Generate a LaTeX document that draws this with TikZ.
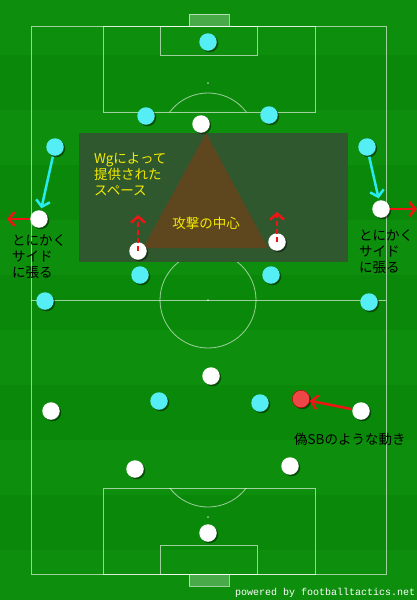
\documentclass[tikz,border=0pt]{standalone}
\usepackage{fontspec}
\newfontfamily\jpfont{Noto Sans CJK JP}
\newfontfamily\monofont{Liberation Mono}
\usetikzlibrary{arrows.meta,shadows}
\definecolor{fieldA}{RGB}{10,136,10}
\definecolor{fieldB}{RGB}{13,142,13}
\definecolor{overlayC}{RGB}{47,88,47}
\definecolor{brownT}{RGB}{94,70,30}
\definecolor{yellowT}{RGB}{245,235,0}
\definecolor{cyanP}{RGB}{85,238,245}
\definecolor{redP}{RGB}{238,70,70}
\definecolor{redA}{RGB}{240,20,20}
\definecolor{cyanA}{RGB}{40,235,240}
\tikzset{
  fieldline/.style={draw=white, draw opacity=0.6, line width=0.8pt},
  player/.style={circle, minimum size=17.5pt, inner sep=0pt,
    drop shadow={shadow xshift=1.5pt, shadow yshift=-1.5pt, opacity=0.45, fill=black}},
  pw/.style={player, fill=white},
  pc/.style={player, fill=cyanP},
  pr/.style={player, fill=redP, draw=red!70!black, line width=0.4pt},
  tip/.style={-{Straight Barb[length=6pt,width=14pt,line width=2.5pt]}},
  carrow/.style={tip, draw=cyanA, line width=2.5pt, shorten <=1pt, shorten >=2pt},
  rarrow/.style={tip, draw=redA, line width=2.5pt},
  darrow/.style={tip, draw=redA, line width=2.5pt, dash pattern=on 5pt off 3pt},
  jptext/.style={font=\jpfont\fontsize{13.5}{16}\selectfont, inner sep=0pt, align=left},
}
\begin{document}
\begin{tikzpicture}[x=1pt,y=-1pt]
\useasboundingbox (0,0) rectangle (417,600);
% field background with stripes
\fill[fieldA] (0,0) rectangle (417,600);
\foreach \y in {0,110,220,330,440,550} {
  \fill[fieldB] (0,\y) rectangle (417,\y+55);
}
% field markings
\draw[fieldline] (31,26) rectangle (386,574);
\draw[fieldline] (31,300) -- (386,300);
\draw[fieldline] (208,300) circle[radius=48];
\fill[white, opacity=0.6] (208,300) circle[radius=1];
% top
\draw[fieldline] (103,26) rectangle (315,112);
\draw[fieldline] (160,26) rectangle (257,55);
\draw[fieldline, fill=white, fill opacity=0.25] (189,14) rectangle (229,26);
\fill[white, opacity=0.6] (208,83) circle[radius=1];
\draw[fieldline] (169.8,112) arc[start angle=217.2, end angle=322.8, radius=48];
% bottom
\draw[fieldline] (103,488) rectangle (315,574);
\draw[fieldline] (160,545) rectangle (257,574);
\draw[fieldline, fill=white, fill opacity=0.25] (189,574) rectangle (229,586);
\fill[white, opacity=0.6] (208,517) circle[radius=1];
\draw[fieldline] (169.8,488) arc[start angle=142.8, end angle=37.2, radius=48];
% overlay and triangle
\fill[overlayC] (79,133) rectangle (348,262);
\fill[brownT] (206,133) -- (143,248) -- (268,248) -- cycle;
% texts in overlay
\node[jptext, text=yellowT, anchor=west] (t1) at (94,174) {Wgによって\\提供された\\スペース};
\node[jptext, text=yellowT] (t2) at (206,223) {攻撃の中心};
% cyan players
\node[pc] (c1) at (208,42) {};
\node[pc] (c2) at (146,116) {};
\node[pc] (c3) at (269,115) {};
\node[pc] (c4) at (55,147) {};
\node[pc] (c5) at (367,147) {};
\node[pc] (c6) at (140,275) {};
\node[pc] (c7) at (271,275) {};
\node[pc] (c8) at (45,301) {};
\node[pc] (c9) at (369,302) {};
\node[pc] (c10) at (159,401) {};
\node[pc] (c11) at (260,403) {};
% white players
\node[pw] (w1) at (201,124) {};
\node[pw] (w2) at (39,219) {};
\node[pw] (w3) at (138,251) {};
\node[pw] (w4) at (277,242) {};
\node[pw] (w5) at (381,209) {};
\node[pw] (w6) at (211,376) {};
\node[pw] (w7) at (51,411) {};
\node[pw] (w8) at (361,411) {};
\node[pw] (w9) at (135,469) {};
\node[pw] (w10) at (290,466) {};
\node[pw] (w11) at (208,533) {};
% red player
\node[pr] (r1) at (301,399) {};
% arrows
\coordinate (eL) at (7,219);
\coordinate (eR) at (417,209);
\coordinate (u3) at (138,215);
\coordinate (u4) at (277,212);
\draw[carrow] (c4) -- (w2);
\draw[carrow] (c5) -- (w5);
\draw[rarrow] (w2.west) -- (eL);
\draw[rarrow] (w5.east) -- (eR);
\draw[darrow] (w3.center) -- (u3);
\draw[darrow] (w4.center) -- (u4);
\draw[rarrow, shorten <=1pt] (w8) -- (r1);
% labels
\node[jptext, text=black, anchor=west] (t3) at (12,257) {とにかく\\サイド\\に張る};
\node[jptext, text=black, anchor=west] (t4) at (359,252) {とにかく\\サイド\\に張る};
\node[jptext, text=black, anchor=west] (t5) at (294,439) {偽SBのような動き};
\node[font=\monofont\fontsize{10}{12}\selectfont, text=white, anchor=west, inner sep=0pt] (t6) at (235,593) {powered by footballtactics.net};
\end{tikzpicture}
\end{document}
